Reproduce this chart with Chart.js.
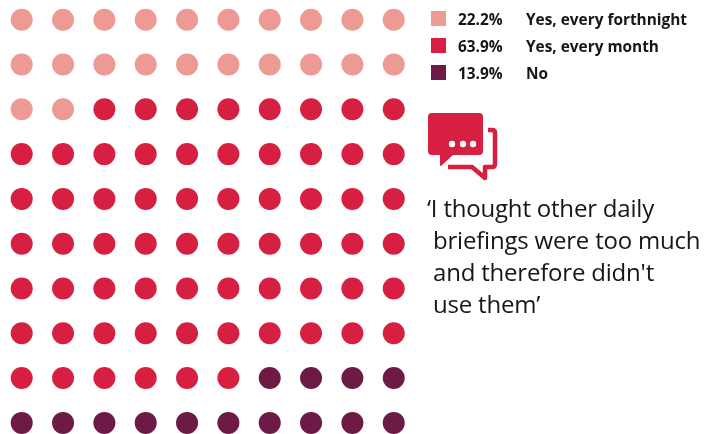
<!DOCTYPE html>
<html>
<head>
<meta charset="utf-8">
<script src="https://cdn.jsdelivr.net/npm/chart.js@4"></script>
<style>
  html, body { margin: 0; padding: 0; background: #fff; }
  #wrap { position: relative; width: 705px; height: 434px; overflow: hidden; font-family: "Open Sans", sans-serif; color: #161616; }
  canvas { position: absolute; left: 0; top: 0; }
  .sw { position: absolute; left: 431px; width: 15px; height: 15px; }
  .lg { position: absolute; font-size: 15.4px; font-weight: 700; line-height: 20px; white-space: nowrap; }
  .q { position: absolute; font-size: 24px; line-height: 32px; white-space: nowrap; letter-spacing: -0.2px; }
  svg { position: absolute; left: 0; top: 0; }
</style>
</head>
<body>
<div id="wrap">
  <canvas id="c" width="705" height="434"></canvas>
  <svg width="705" height="434">
    <path fill="#d71f42" d="M432 113H479Q483 113 483 117V151Q483 155 479 155H453L441 166Q440 166 440 165V155H432Q428 155 428 151V117Q428 113 432 113Z"/>
    <circle cx="452" cy="144" r="3.2" fill="#fff"/><circle cx="463" cy="144" r="3.2" fill="#fff"/><circle cx="473" cy="144" r="3.2" fill="#fff"/>
    <path fill="none" stroke="#d71f42" stroke-width="4.5" stroke-linejoin="round" d="M488 130H492Q495 130 495 133V164Q495 167 492 167H485V178L472 167H448"/>
  </svg>
</div>
<script>
const categories = ["Yes, every forthnight", "Yes, every month", "No"];
const shares = [22.2, 63.9, 13.9];
const colours = ["#ec9a93", "#d71f42", "#6d1a46"];
const quoteLines = ["‘I thought other daily", " briefings were too much", " and therefore didn't", " use them’"];
const columnsPerRow = 10;

// One dot per percentage point, filled row by row from the top left.
let cell = 0;
const datasets = categories.map((name, i) => {
  const data = [];
  for (let n = 0; n < Math.round(shares[i]); n++, cell++) {
    data.push({ x: cell % columnsPerRow + 1, y: Math.floor(cell / columnsPerRow) + 1 });
  }
  return { label: name, data, backgroundColor: colours[i], borderWidth: 0, pointRadius: 11, pointHoverRadius: 11, clip: false };
});

new Chart(document.getElementById("c"), {
  type: "scatter",
  data: { datasets },
  options: {
    responsive: false,
    animation: false,
    layout: { padding: 0, autoPadding: false },
    plugins: { legend: { display: false }, tooltip: { enabled: false } },
    scales: {
      x: { type: "linear", display: false, min: 0.475, max: 17.53 },
      y: { type: "linear", display: false, reverse: true, min: 0.56, max: 10.248 }
    }
  }
});

// Legend rows and the quotation beside the dots.
const wrap = document.getElementById("wrap");
function addText(cls, text, left, top) {
  const el = document.createElement("div");
  el.className = cls;
  el.style.left = left + "px";
  el.style.top = top + "px";
  el.textContent = text;
  wrap.appendChild(el);
}
[9, 36, 63].forEach((top, i) => {
  const sw = document.createElement("div");
  sw.className = "sw";
  sw.style.top = (top + 2) + "px";
  sw.style.background = colours[i];
  wrap.appendChild(sw);
  addText("lg", shares[i].toFixed(1) + "%", 458, top + 1);
  addText("lg", categories[i], 526, top + 1);
});
quoteLines.forEach((line, i) => {
  addText("q", line.trim(), line.startsWith(" ") ? 433 : 427, 192 + i * 32);
});
</script>
</body>
</html>
